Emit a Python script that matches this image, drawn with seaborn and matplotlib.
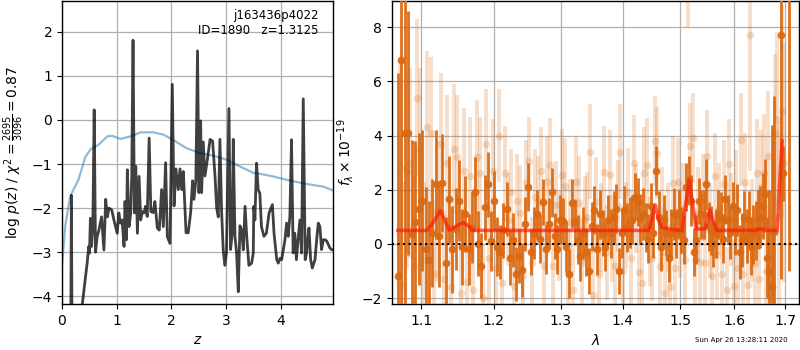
import numpy as np
import pandas as pd
import matplotlib
matplotlib.use("Agg")
import matplotlib.pyplot as plt
import seaborn as sns
from matplotlib.ticker import FixedLocator, FixedFormatter, NullLocator

# ---------------- redshift probability ----------------
z_pz = [0.00, 0.160, 0.172, 0.184, 0.368, 0.46, 0.49, 0.503, 0.52, 0.54, 0.564, 0.589, 0.613,
        0.644, 0.675, 0.724, 0.767, 0.80, 0.83, 0.86, 0.91, 0.95, 1.01, 1.04, 1.07, 1.10,
        1.135, 1.153, 1.178, 1.196, 1.227, 1.258, 1.276, 1.30, 1.325, 1.35, 1.38, 1.41, 1.44,
        1.47, 1.50, 1.53, 1.56, 1.595, 1.626, 1.67, 1.70, 1.744, 1.78, 1.823, 1.854, 1.896,
        1.927, 1.976, 2.018, 2.05, 2.085, 2.128, 2.16, 2.19, 2.22, 2.27, 2.31, 2.354, 2.39,
        2.415, 2.45, 2.48, 2.506, 2.537, 2.555, 2.585, 2.616, 2.66, 2.71, 2.756, 2.80, 2.83,
        2.86, 2.89, 2.92, 2.95, 2.98, 3.01, 3.055, 3.085, 3.116, 3.134, 3.165, 3.195, 3.226,
        3.256, 3.287, 3.317, 3.35, 3.38, 3.42, 3.47, 3.50, 3.51, 3.53, 3.56, 3.59, 3.62, 3.65,
        3.695, 3.74, 3.79, 3.85, 3.88, 3.93, 3.957, 3.99, 4.02, 4.08, 4.11, 4.14, 4.17, 4.20,
        4.23, 4.26, 4.29, 4.32, 4.354, 4.384, 4.415, 4.45, 4.476, 4.506, 4.52, 4.55, 4.58,
        4.63, 4.66, 4.69, 4.72, 4.75, 4.78, 4.82, 4.85, 4.90, 4.93, 4.96]
logp_pz = [-6.0, -5.0, -1.71, -5.0, -4.22, -3.25, -2.87, -3.02, -2.23, -2.87, -2.45, 0.23, -3.0,
           -2.64, -2.5, -2.2, -2.95, -1.8, -2.2, -2.0, -2.04, -2.27, -2.57, -2.11, -2.34, -2.27,
           -2.87, -1.85, -2.72, -1.13, -2.42, -2.11, -1.28, 1.81, -2.11, -1.05, -2.57, -1.28, -2.27,
           -2.08, -2.11, -1.96, -2.19, -0.41, -2.08, -2.1, -1.85, -2.45, -2.5, -1.58, -2.42, -0.97,
           -2.65, -2.8, 0.81, -1.95, -1.11, -1.58, -1.11, -1.58, -1.17, -2.56, -2.56, -2.1, -1.38,
           -1.8, -1.35, 1.57, -1.65, -0.02, -1.65, -0.5, -1.27, -0.9, -0.44, -0.48, -1.27, -2.0,
           -2.2, -0.44, -2.05, -2.94, -3.3, -3.0, 0.26, -2.94, -2.56, -0.44, -2.64, -3.02, -3.9,
           -2.4, -2.5, -2.95, -1.96, -2.64, -3.3, -3.25, -3.02, -1.96, -2.27, -0.98, -1.58, -1.66,
           -2.42, -2.64, -2.57, -2.11, -1.92, -2.57, -3.17, -3.25, -3.14, -3.17, -2.72, -2.34, -2.64,
           -2.19, -0.45, -3.02, -2.57, -3.17, -2.72, -2.27, -3.02, 0.48, -3.17, -3.02, -2.57, -2.45,
           -3.17, -3.36, -3.17, -2.72, -2.34, -2.42, -2.94, -2.72, -2.72, -2.76, -2.9, -2.94, -2.95]

# prior curve
z_prior = [0.00, 0.06, 0.15, 0.30, 0.43, 0.52, 0.67, 0.83, 0.92, 1.07, 1.26, 1.44, 1.67, 1.85,
           2.03, 2.28, 2.52, 2.77, 3.01, 3.25, 3.50, 3.62, 3.86, 4.05, 4.23, 4.47, 4.66, 4.78, 4.96]
logp_prior = [-3.3, -2.4, -1.73, -1.36, -0.83, -0.67, -0.56, -0.37, -0.36, -0.43, -0.37, -0.28,
              -0.28, -0.33, -0.45, -0.64, -0.75, -0.81, -0.9, -1.05, -1.2, -1.22, -1.28, -1.34,
              -1.39, -1.45, -1.49, -1.51, -1.6]

# ---------------- spectrum ----------------
nan = np.nan
wave_a = np.round(1.0700 + 0.0045 * np.arange(143), 4)
flux_a = [-1.2, 6.8, 4.1, 4.1, 0.35, 0.8, 1.3, 1.6, -0.2, -0.6,
          0.4, 2.2, 0.3, 2.25, -0.7, 1.65, -0.2, 0.55, 1.6, -0.1,
          1.1, -0.2, 0.6, 1.9, 0.0, -0.8, 1.35, 2.2, 0.1, 1.6,
          -0.1, -0.3, 0.5, 1.3, -0.5, 0.15, -1.1, -0.45, -0.95, 0.75,
          2.1, -0.3, 0.4, 1.1, 0.2, 1.55, -0.2, 0.75, 1.9, 0.3,
          -0.2, 0.9, 0.85, -0.1, -1.1, 1.5, 0.8, 0.15, -0.45, 0.4,
          -0.3, -1.0, 0.65, 1.25, -0.2, 1.1, 0.4, -0.1, 0.9, 0.4,
          1.0, 1.3, -1.0, 0.4, 1.25, 0.6, 0.8, 0.9, 1.75, 1.55,
          0.95, 1.1, 0.6, 0.2, 1.4, 0.4, 2.7, 1.0, -0.1, 0.9,
          0.4, -0.5, 0.4, 1.1, 0.4, 1.1, 0.5, 0.15, 2.1, 2.35,
          1.6, -0.3, 0.15, 1.6, 1.1, 1.1, 2.2, 0.65, 0.5, 0.0,
          0.4, 1.1, 0.95, 0.2, 1.65, 0.9, 0.4, 1.4, 0.5, 1.25,
          -0.3, 0.15, 0.95, 0.3, 0.9, -0.1, 0.35, 0.5, 0.9, 1.0,
          1.4, 1.85, -0.5, -1.0, -1.6, 0.45, nan, nan, 7.7, 2.6,
          nan, nan, 10.0]
err_a = [7.5, 9.5, 6.5, 4.5, 3.5, 3.0, 2.8, 2.6, 2.3, 2.2,
         2.0, 2.0, 1.9, 1.8, 1.7, 1.6, 1.6, 1.5, 1.5, 1.4,
         1.4, 1.3, 1.3, 1.3, 1.2, 1.2, 1.2, 1.2, 1.1, 1.1,
         1.1, 1.0, 1.0, 1.0, 1.0, 1.0, 1.0, 1.0, 1.0, 1.0,
         0.9, 0.85, 0.95, 0.9, 0.9, 0.85, 0.9, 0.95, 0.9, 0.85,
         0.9, 0.9, 0.85, 0.95, 0.9, 0.9, 0.85, 0.9, 0.9, 0.95,
         0.9, 0.85, 0.9, 0.9, 0.95, 0.9, 0.85, 0.9, 0.9, 0.9,
         0.95, 0.9, 0.85, 0.9, 0.9, 0.9, 0.95, 0.9, 0.85, 0.9,
         0.9, 0.95, 0.9, 0.9, 0.85, 0.9, 0.9, 0.95, 0.9, 0.9,
         0.85, 0.9, 0.9, 0.95, 0.9, 0.9, 0.85, 0.9, 0.9, 0.9,
         0.95, 0.9, 0.9, 0.85, 0.9, 0.9, 0.95, 0.9, 0.9, 0.85,
         0.9, 0.9, 0.95, 0.9, 0.9, 0.9, 0.95, 0.9, 0.9, 0.95,
         1.0, 1.0, 1.0, 1.0, 1.05, 1.05, 1.1, 1.1, 1.1, 1.15,
         1.2, 1.3, 1.5, 3.0, 6.0, 5.0, nan, nan, 9.0, 1.0,
         nan, nan, 11.0]

wave_b = np.round(1.0722 + 0.0045 * np.arange(140), 4)
flux_b = [2.8, -1.5, 2.7, 3.0, -0.8, 5.4, 3.5, -0.6, 4.3, 4.1,
          -1.1, 1.2, 3.7, -1.3, 3.0, -1.6, 3.5, 3.2, -1.8, 2.7,
          -1.4, 2.5, -1.7, 3.2, 2.6, -2.0, 3.7, -0.5, 2.7, -0.9,
          4.0, -1.45, 2.6, 0.9, 1.9, -1.55, 1.6, 1.15, -1.2, 2.25,
          3.05, -0.7, 1.75, 1.6, 2.7, -0.8, 2.3, 2.9, -0.8, 1.45,
          0.3, 2.55, 2.15, -1.1, 0.8, -1.7, 2.3, 1.5, -0.7, 0.9,
          1.0, 3.4, -1.9, 1.55, -1.1, 0.6, 2.65, -0.3, 2.55, 0.2,
          -0.8, 1.4, 3.4, -1.0, 0.7, 1.9, -0.5, 3.0, 1.3, -1.05,
          -1.45, 2.6, 2.9, 0.1, -0.5, 3.8, 3.35, -0.8, 1.2, -1.8,
          0.6, -1.6, 2.25, -0.9, 2.3, 0.4, 1.3, -0.6, 10.5, 3.6,
          3.9, -0.6, 1.1, -0.65, 1.7, -0.7, 3.25, 0.5, -1.2, 2.5,
          -0.4, 1.3, -1.1, 2.2, -1.7, 2.95, 0.9, -1.55, 1.8, -0.9,
          3.85, -1.1, 2.3, -1.5, 7.7, 0.5, -0.7, 2.6, -1.3, 2.1,
          2.6, -1.0, 3.25, -1.8, 0.6, 4.1, 4.6, 1.0, 4.9, 3.0]
err_b = [4.0, 3.8, 3.6, 3.5, 3.3, 2.9, 3.0, 2.9, 2.8, 2.8,
         2.7, 2.6, 2.6, 2.5, 2.5, 2.4, 2.4, 2.3, 2.3, 2.3,
         2.2, 2.2, 2.2, 2.1, 2.1, 2.0, 2.0, 1.9, 1.9, 1.8,
         1.7, 1.7, 1.75, 1.7, 1.6, 1.65, 1.7, 1.75, 1.65, 1.6,
         1.65, 1.7, 1.75, 1.65, 1.6, 1.65, 1.7, 1.75, 1.65, 1.6,
         1.65, 1.7, 1.75, 1.65, 1.6, 1.65, 1.7, 1.75, 1.65, 1.6,
         1.65, 1.75, 1.75, 1.65, 1.6, 1.65, 1.7, 1.75, 1.65, 1.6,
         1.65, 1.7, 1.75, 1.65, 1.6, 1.65, 1.7, 1.75, 1.65, 1.6,
         1.65, 1.7, 1.75, 1.65, 1.6, 1.65, 1.7, 1.75, 1.65, 1.6,
         1.65, 1.7, 1.75, 1.65, 1.6, 1.65, 1.7, 1.75, 2.5, 1.6,
         1.65, 1.7, 1.75, 1.65, 1.6, 1.65, 1.7, 1.75, 1.65, 1.6,
         1.65, 1.7, 1.75, 1.65, 1.6, 1.65, 1.7, 1.75, 1.65, 1.6,
         1.7, 1.8, 1.8, 1.8, 5.0, 1.9, 2.0, 2.0, 2.1, 2.1,
         2.2, 2.3, 2.4, 2.5, 2.7, 2.9, 3.2, 3.5, 3.9, 4.4]

# best-fit model
wave_model = [1.070, 1.108, 1.115, 1.1257, 1.132, 1.138, 1.150, 1.157, 1.165, 1.170, 1.445,
              1.4558, 1.4625, 1.4676, 1.480, 1.4973, 1.503, 1.509, 1.516, 1.522, 1.529, 1.545,
              1.554, 1.561, 1.567, 1.640, 1.651, 1.660, 1.684, 1.689, 1.694]
flux_model = [0.5, 0.5, 0.75, 1.23, 0.85, 0.5, 0.7, 0.79, 0.65, 0.5, 0.5,
              1.44, 0.8, 0.6, 0.55, 0.5, 0.5, 1.4, 2.36, 1.5, 0.55, 0.55,
              1.25, 0.8, 0.5, 0.5, 0.56, 0.5, 0.5, 2.2, 3.8]

orange = "#da6912"

fig = plt.figure(figsize=(8, 3.5), dpi=100)
ax1 = fig.add_axes([0.0775, 0.131, 0.3388, 0.866])
ax2 = fig.add_axes([0.490, 0.131, 0.509, 0.866])

for ax in (ax1, ax2):
    ax.set_axisbelow(True)
    ax.grid(True, color="#b0b0b0", lw=0.9)
    ax.tick_params(direction="out", length=3.5, labelsize=10, color="k")
    for s in ax.spines.values():
        s.set_color("k")
        s.set_linewidth(1.0)

# left: p(z)
df_pz = pd.DataFrame({"z": z_pz, "logp": logp_pz})
df_prior = pd.DataFrame({"z": z_prior, "logp": logp_prior})
sns.lineplot(data=df_prior, x="z", y="logp", ax=ax1, color="#1f77b4", alpha=0.5, lw=1.6,
             sort=False, estimator=None)
sns.lineplot(data=df_pz, x="z", y="logp", ax=ax1, color="k", alpha=0.75, lw=2.0,
             sort=False, estimator=None)
ax1.set_xlim(0, 4.96)
ax1.set_ylim(-4.18, 2.7)
ax1.set_xticks([0, 1, 2, 3, 4])
ax1.set_yticks([-4, -3, -2, -1, 0, 1, 2])
ax1.set_xlabel("$z$", fontsize=10)
ax1.set_ylabel(r"log $p(z)$ / $\chi^2=\frac{2695}{3096}=0.87$", fontsize=10)
ax1.text(0.948, 0.975, "j163436p4022\nID=1890   z=1.3125", transform=ax1.transAxes,
         ha="right", va="top", fontsize=8.5, linespacing=1.25)

# right: spectrum
ax2.errorbar(wave_b, flux_b, yerr=err_b, fmt="o", color=orange, alpha=0.22,
             ms=5.5, elinewidth=2.8, mew=0, zorder=2)
ax2.errorbar(wave_a, flux_a, yerr=err_a, fmt="o", color=orange, alpha=0.95,
             ms=5.5, elinewidth=2.0, mew=0, zorder=3)
df_model = pd.DataFrame({"wave": wave_model, "flux": flux_model})
sns.lineplot(data=df_model, x="wave", y="flux", ax=ax2, color="#ff1a0a", alpha=0.7, lw=2.6,
             sort=False, estimator=None, zorder=4)
ax2.axhline(0, color="k", ls=":", lw=1.5, zorder=5)

ax2.set_xscale("log")
ax2.set_xlim(1.0625, 1.729)
ax2.set_ylim(-2.22, 8.96)
lam_ticks = [1.1, 1.2, 1.3, 1.4, 1.5, 1.6, 1.7]
ax2.xaxis.set_major_locator(FixedLocator(lam_ticks))
ax2.xaxis.set_major_formatter(FixedFormatter([f"{t:.1f}" for t in lam_ticks]))
ax2.xaxis.set_minor_locator(NullLocator())
ax2.set_yticks([-2, 0, 2, 4, 6, 8])
ax2.set_xlabel(r"$\lambda$", fontsize=10)
ax2.set_ylabel(r"$f_\lambda \times 10^{-19}$", fontsize=10)

fig.text(0.985, 0.028, "Sun Apr 26 13:28:11 2020", ha="right", va="center", fontsize=5)

fig.savefig("out.png", dpi=100)
